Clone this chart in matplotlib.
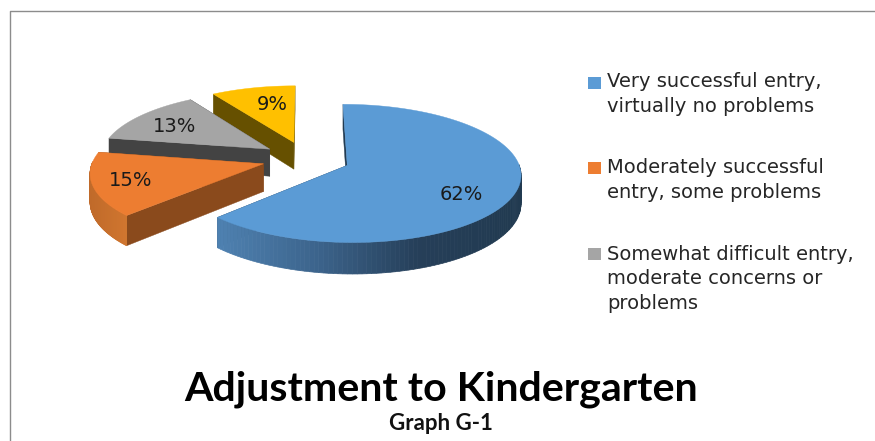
# plot.py
# Exploded 3D-look pie for the kindergarten adjustment graph.
# Saves out.png

import numpy as np
import matplotlib
matplotlib.use("Agg")
import matplotlib.pyplot as plt
from matplotlib.colors import to_rgb
from matplotlib.patches import Polygon, Rectangle

values = [62, 15, 13, 9]
pct_labels = ["62%", "15%", "13%", "9%"]
legend_labels = [
    "Very successful entry,\nvirtually no problems",
    "Moderately successful\nentry, some problems",
    "Somewhat difficult entry,\nmoderate concerns or\nproblems",
]
title = "Adjustment to Kindergarten"
subtitle = "Graph G-1"

top_colors = ["#5b9bd5", "#ed7d31", "#a5a5a5", "#ffc000"]
cut_colors = ["#223b52", "#8a4a1c", "#434343", "#665000"]
rim_colors = [
    ["#4f82b2", "#3c648c", "#263f59", "#213a50"],
    ["#c06a2a", "#d0762f"],
    ["#6e6e6e", "#5a5a5a"],
    ["#997300", "#806000"],
]
label_xy = [(461, 194), (131, 180), (175, 126), (272, 104)]

# projection of the tilted disc, in pixels of the canvas
CX, CY = 306, 158.6
RX, RY = 170, 66.6
PERSP = 0.115
EXPLODE = 0.26
THICK = 27.5


def project(u, v, drop=0.0):
    s = 1 / (1 + PERSP * np.asarray(v))
    return CX + RX * u * s, CY - RY * v * s + THICK * s * drop


def blend(stops, t):
    stops = np.array([to_rgb(c) for c in stops])
    pos = np.linspace(0, 1, len(stops))
    return [np.interp(t, pos, stops[:, i]) for i in range(3)]


def draw_slice(ax, start, stop, top, cut, rim):
    mid = (start + stop) / 2
    ou, ov = EXPLODE * np.sin(mid), EXPLODE * np.cos(mid)
    th = np.linspace(start, stop, 160)
    u = ou + np.sin(th)
    v = ov + np.cos(th)

    # radial cut faces
    for a in (start, stop):
        eu, ev = ou + np.sin(a), ov + np.cos(a)
        p = [project(ou, ov), project(eu, ev), project(eu, ev, 1), project(ou, ov, 1)]
        ax.add_patch(Polygon(p, closed=True, fc=cut, ec=cut, lw=0.3))

    # outer rim, short quads so the shading runs along it; back half is hidden
    x, y = project(u, v)
    xb, yb = project(u, v, 1)
    front = np.cos(th) < 0.03
    span = max(x[front].max() - x[front].min(), 1) if front.any() else 1
    for i in range(len(th) - 1):
        if not front[i]:
            continue
        c = blend(rim, (x[i] - x[front].min()) / span)
        p = [(x[i], y[i]), (x[i + 1], y[i + 1]), (xb[i + 1], yb[i + 1]), (xb[i], yb[i])]
        ax.add_patch(Polygon(p, closed=True, fc=c, ec=c, lw=0.5))

    # top surface
    ax0, ay0 = project(ou, ov)
    p = [(ax0, ay0)] + list(zip(x, y))
    ax.add_patch(Polygon(p, closed=True, fc=top, ec=top, lw=0.3))


fig = plt.figure(figsize=(8.75, 4.41), dpi=100)
ax = fig.add_axes([0, 0, 1, 1])
ax.set_xlim(0, 875)
ax.set_ylim(441, 0)
ax.axis("off")

# chart frame
ax.plot([9.5, 9.5, 875], [441, 10.5, 10.5], color="#8c8c8c", lw=1)

edges = np.cumsum([0] + values) / sum(values) * 2 * np.pi
# far slices first, the big one sits in front
for i in [3, 2, 1, 0]:
    draw_slice(ax, edges[i], edges[i + 1], top_colors[i], cut_colors[i], rim_colors[i])

for (x, y), s in zip(label_xy, pct_labels):
    ax.text(x, y, s, fontsize=14, color="#1a1a1a", ha="center", va="center",
            family="DejaVu Sans")

legend_y = [82.5, 168, 254]
legend_text_y = [94, 180, 279]
for i, s in enumerate(legend_labels):
    ax.add_patch(Rectangle((588, legend_y[i] - 6), 12.5, 12, fc=top_colors[i], ec="none"))
    ax.text(607, legend_text_y[i], s, fontsize=14, color="#262626", ha="left", va="center",
            family="DejaVu Sans", linespacing=1.36)

ax.text(441, 389, title, fontsize=29.6, fontweight="bold", color="black",
        ha="center", va="center", family="Lato")
ax.text(441, 423, subtitle, fontsize=16, fontweight="bold", color="#111111",
        ha="center", va="center", family="Lato")

fig.savefig("out.png", dpi=100)
